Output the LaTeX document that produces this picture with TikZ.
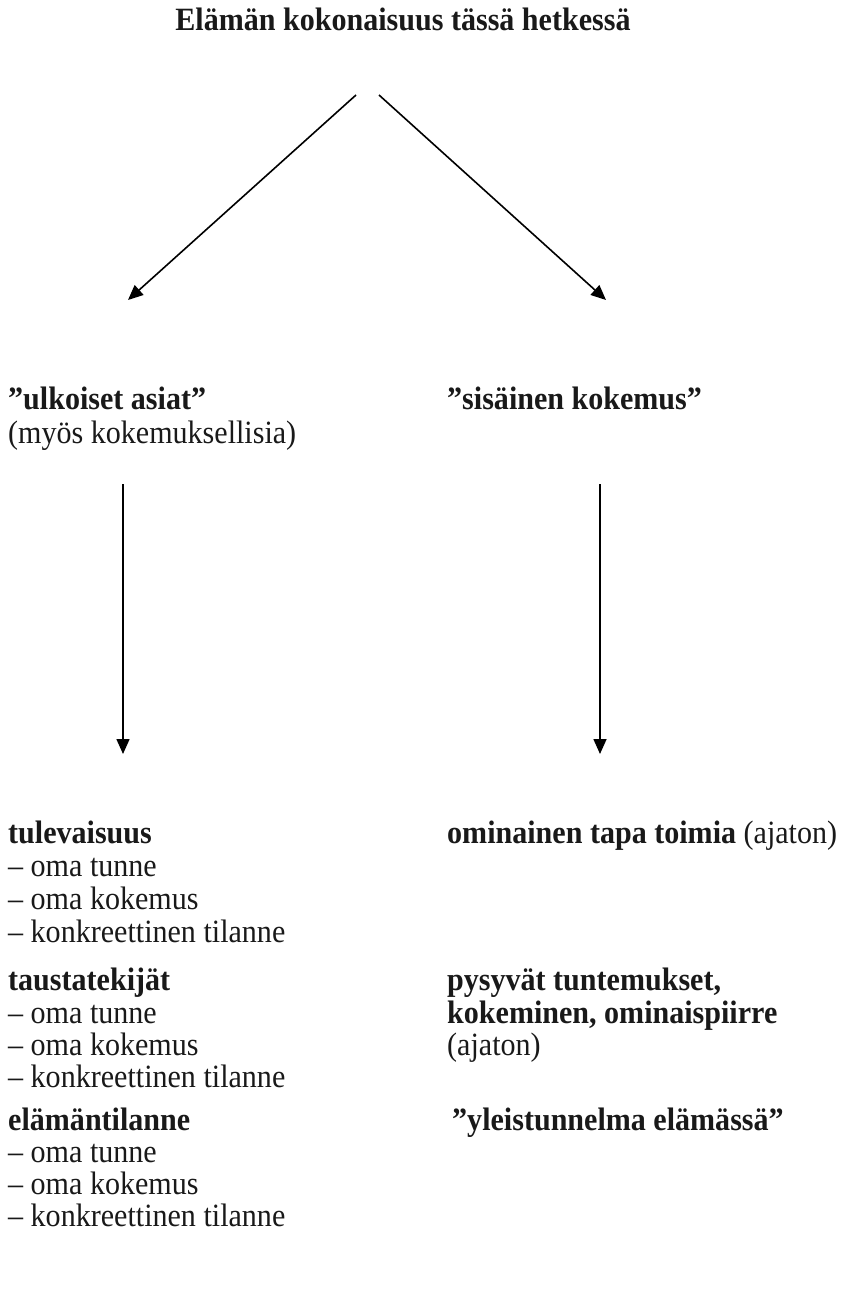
\documentclass[tikz,border=0pt]{standalone}
\usepackage{fontspec}
\setmainfont{Liberation Serif}[FakeStretch=0.925]
\usetikzlibrary{arrows.meta}
\tikzset{
  txt/.style={anchor=base west, inner sep=0pt, font=\fontsize{32.5}{33}\selectfont, text=black!90},
  arr/.style={line width=1.6pt, -{Triangle[length=15pt,width=13pt]}}
}
\begin{document}
\begin{tikzpicture}[x=1pt,y=-1pt]
\useasboundingbox (0,0) rectangle (854,1297);
% title
\node[txt, anchor=base] (title) at (403,31) {\textbf{Elämän kokonaisuus tässä hetkessä}};
% first level
\node[txt] (ulk) at (8,409) {\textbf{”ulkoiset asiat”}};
\node[txt] (ulk2) at (8,443) {(myös kokemuksellisia)};
\node[txt] (sis) at (447,409) {\textbf{”sisäinen kokemus”}};
% left column
\node[txt] (tul) at (8,843) {\textbf{tulevaisuus}};
\node[txt] (tul1) at (8,876) {– oma tunne};
\node[txt] (tul2) at (8,909) {– oma kokemus};
\node[txt] (tul3) at (8,942) {– konkreettinen tilanne};
\node[txt] (tau) at (8,990) {\textbf{taustatekijät}};
\node[txt] (tau1) at (8,1023) {– oma tunne};
\node[txt] (tau2) at (8,1055) {– oma kokemus};
\node[txt] (tau3) at (8,1087) {– konkreettinen tilanne};
\node[txt] (ela) at (8,1130) {\textbf{elämäntilanne}};
\node[txt] (ela1) at (8,1162) {– oma tunne};
\node[txt] (ela2) at (8,1194) {– oma kokemus};
\node[txt] (ela3) at (8,1226) {– konkreettinen tilanne};
% right column
\node[txt] (omi) at (447,843) {\textbf{ominainen tapa toimia} (ajaton)};
\node[txt] (pys) at (447,990) {\textbf{pysyvät tuntemukset,}};
\node[txt] (pys2) at (447,1023) {\textbf{kokeminen, ominaispiirre}};
\node[txt] (pys3) at (447,1055) {(ajaton)};
\node[txt] (yle) at (452,1130) {\textbf{”yleistunnelma elämässä”}};
% connector ends
\coordinate (a1s) at (356,95);
\coordinate (a1e) at (128,300);
\coordinate (a2s) at (379,95);
\coordinate (a2e) at (606,300);
\coordinate (b1s) at (123,484);
\coordinate (b1e) at (123,754);
\coordinate (b2s) at (600,484);
\coordinate (b2e) at (600,754);
\draw[arr] (a1s) -- (a1e);
\draw[arr] (a2s) -- (a2e);
\draw[arr] (b1s) -- (b1e);
\draw[arr] (b2s) -- (b2e);
\end{tikzpicture}
\end{document}
